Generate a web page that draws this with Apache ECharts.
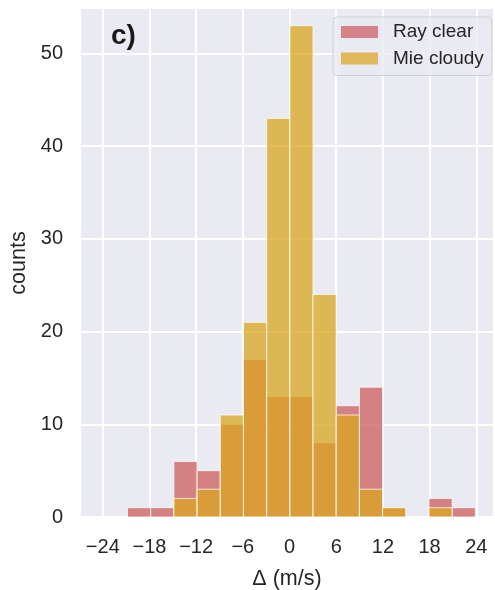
<!DOCTYPE html>
<html>
<head>
<meta charset="utf-8">
<script src="https://cdn.jsdelivr.net/npm/echarts@6/dist/echarts.min.js"></script>
<style>html,body{margin:0;padding:0;background:#fff;}#c{width:495px;height:590px;}</style>
</head>
<body>
<div id="c"></div>
<script>
// ---- data ----
var binEdges = [-20.82, -17.84, -14.86, -11.88, -8.90, -5.92, -2.94, 0.04, 3.02, 6.00, 8.98, 11.96, 14.94, 17.92, 20.90, 23.88];
var rayClear = [1, 1, 6, 5, 10, 17, 13, 13, 8, 12, 14, 1, 0, 2, 1];
var mieCloudy = [0, 0, 2, 3, 11, 21, 43, 53, 24, 11, 3, 1, 0, 1, 0];
var seriesNames = ['Ray clear', 'Mie cloudy'];
var xTicks = [-24, -18, -12, -6, 0, 6, 12, 18, 24];
var yTicks = [0, 10, 20, 30, 40, 50];

function toBins(counts) {
  var out = [];
  for (var i = 0; i < counts.length; i++) out.push([binEdges[i], binEdges[i + 1], counts[i]]);
  return out;
}
function fmt(v) { return v < 0 ? '\u2212' + Math.abs(v) : String(v); }

var FONT = 'Liberation Sans, Arial, Helvetica, sans-serif';
var TXT = '#262626';

function makeRender(color) {
  return function (params, api) {
    var h = api.value(2);
    if (!h) return null;
    var p0 = api.coord([api.value(0), h]);
    var p1 = api.coord([api.value(1), 0]);
    return {
      type: 'rect',
      shape: { x: p0[0], y: p0[1], width: p1[0] - p0[0], height: p1[1] - p0[1] },
      style: { fill: color, stroke: '#ffffff', lineWidth: 1, opacity: 0.75 }
    };
  };
}

var chart = echarts.init(document.getElementById('c'), null, { renderer: 'canvas' });
chart.setOption({
  backgroundColor: '#ffffff',
  animation: false,
  grid: { left: 81, right: 2, top: 9, bottom: 73, show: true, backgroundColor: '#eaeaf2', borderWidth: 0,
          containLabel: false, outerBoundsMode: 'none' },
  legend: {
    orient: 'vertical', left: 333, top: 17,
    padding: [5, 8, 7, 8],
    itemWidth: 37, itemHeight: 12, itemGap: 6.5,
    backgroundColor: 'rgba(234,234,242,0.8)',
    borderColor: '#cfcfd6', borderWidth: 1, borderRadius: 4,
    textStyle: { fontFamily: FONT, fontSize: 19, lineHeight: 20, color: TXT, padding: [0, 0, 0, 10] },
    data: [
      { name: seriesNames[0], icon: 'rect', itemStyle: { color: '#d4838a' } },
      { name: seriesNames[1], icon: 'rect', itemStyle: { color: '#dfb85b' } }
    ]
  },
  graphic: [{
    type: 'text', left: 111, top: 22, z: 100,
    style: { text: 'c)', fontFamily: FONT, fontSize: 28, fontWeight: 'bold', fill: '#1a1a1a' }
  }],
  xAxis: {
    type: 'value', min: -26.8, max: 26.15,
    name: '\u0394 (m/s)', nameLocation: 'middle', nameGap: 51,
    nameTextStyle: { fontFamily: FONT, fontSize: 21.5, color: TXT },
    axisLine: { show: false },
    axisTick: { show: false, customValues: xTicks },
    axisLabel: { customValues: xTicks, formatter: fmt, fontFamily: FONT, fontSize: 20, color: TXT, margin: 20 },
    splitLine: { show: true, lineStyle: { color: '#ffffff', width: 2 } }
  },
  yAxis: {
    type: 'value', min: 0, max: 54.8,
    name: 'counts', nameLocation: 'middle', nameGap: 43,
    nameTextStyle: { fontFamily: FONT, fontSize: 21.5, color: TXT },
    axisLine: { show: false },
    axisTick: { show: false, customValues: yTicks },
    axisLabel: { customValues: yTicks, fontFamily: FONT, fontSize: 20, color: TXT, margin: 18, padding: [4, 0, 0, 0] },
    splitLine: { show: true, lineStyle: { color: '#ffffff', width: 2 } }
  },
  series: [
    { name: seriesNames[0], type: 'custom', renderItem: makeRender('#cd5c5c'), data: toBins(rayClear),
      encode: { x: [0, 1], y: 2 }, itemStyle: { color: '#d4838a' }, z: 2 },
    { name: seriesNames[1], type: 'custom', renderItem: makeRender('#daa520'), data: toBins(mieCloudy),
      encode: { x: [0, 1], y: 2 }, itemStyle: { color: '#dfb85b' }, z: 3 }
  ]
});
</script>
</body>
</html>
